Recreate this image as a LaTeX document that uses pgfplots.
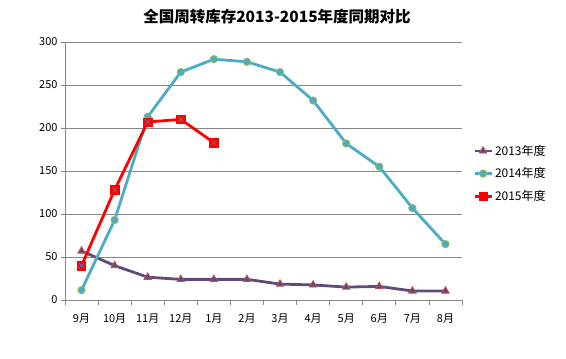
\documentclass[border=0pt]{standalone}
\usepackage{pgfplots}
\pgfplotsset{compat=1.18}
\usepackage{fontspec}
\setmainfont{Noto Sans CJK SC}
\definecolor{c13}{HTML}{604A7B}
\definecolor{c13e}{HTML}{C0504D}
\definecolor{c14}{HTML}{4BACC6}
\definecolor{c14e}{HTML}{9BBB59}
\definecolor{c15}{HTML}{FF0000}
\definecolor{c15x}{HTML}{4F81BD}
\definecolor{gridc}{HTML}{868686}
\begin{document}
\begin{tikzpicture}
\useasboundingbox (-65pt,-59pt) rectangle (501pt,300pt);
\begin{axis}[
  scale only axis, width=397pt, height=258pt,
  at={(0pt,0pt)}, anchor=south west,
  xmin=-0.5, xmax=11.5, ymin=0, ymax=300,
  axis lines*=left,
  axis line style={gridc, line width=0.8pt},
  xtick={0,...,11},
  xticklabels={9月,10月,11月,12月,1月,2月,3月,4月,5月,6月,7月,8月},
  minor xtick={-0.5,0.5,...,11.5},
  ytick={0,50,...,300},
  ymajorgrids, major grid style={gridc, line width=0.8pt},
  tick align=outside,
  major tick length=4pt, minor tick length=5pt,
  x tick style={draw=none},
  minor x tick style={draw=gridc, line width=0.8pt},
  y tick style={gridc, line width=0.8pt},
  tick label style={font=\fontsize{11}{13}\selectfont, text=black},
  xticklabel style={yshift=-6pt},
  /pgf/number format/assume math mode=true,
  legend style={at={(1.02,0.49)}, anchor=west, draw=none, fill=none,
    font=\fontsize{12}{14}\selectfont, row sep=7pt},
  legend cell align=left,
]
\addplot[c13, line width=2.8pt, mark=triangle*, mark size=4.3pt,
  mark options={fill=c13, draw=c13e, line width=0.8pt}]
  coordinates {(0,57)(1,40)(2,26.5)(3,24)(4,24)(5,24)(6,18.5)(7,17.5)(8,15)(9,15.8)(10,10.5)(11,10.5)};
\addlegendentry{2013年度}
\addplot[c14, line width=2.8pt, mark=*, mark size=3.7pt,
  mark options={fill=c14, draw=c14e, line width=0.8pt}]
  coordinates {(0,11.5)(1,93)(2,213)(3,265)(4,280)(5,277)(6,265)(7,232)(8,182)(9,155)(10,107)(11,65)};
\addlegendentry{2014年度}
\addplot[c15, line width=2.8pt, mark=square*, mark size=4.2pt,
  mark options={fill=c15, draw=c15, line width=0.5pt}]
  coordinates {(0,40)(1,128)(2,207)(3,210)(4,183)};
\addlegendentry{2015年度}
\addplot[only marks, c15x, mark=x, mark size=3.7pt, line width=0.6pt, forget plot]
  coordinates {(0,40)(1,128)(2,207)(3,210)(4,183)};
\end{axis}
\node[font=\fontsize{15.5}{17}\selectfont\bfseries] at (212pt,283pt) {全国周转库存2013-2015年度同期对比};
\end{tikzpicture}
\end{document}
